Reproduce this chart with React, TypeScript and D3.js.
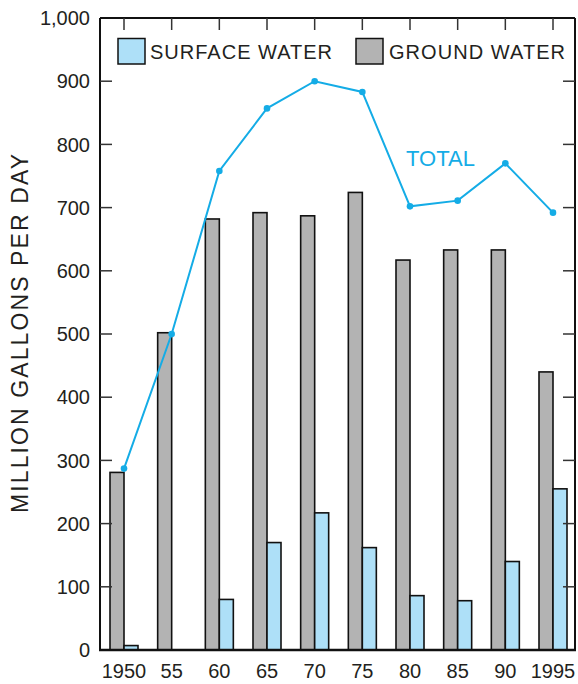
import React from "react";
import * as d3 from "d3";

const years = ["1950", "55", "60", "65", "70", "75", "80", "85", "90", "1995"];
const groundWater = [281, 502, 682, 692, 687, 724, 617, 633, 633, 440];
const surfaceWater = [7, 0, 80, 170, 217, 162, 86, 78, 140, 255];
const total = [287, 500, 758, 857, 900, 883, 702, 711, 770, 692];
const yTicks = [0, 100, 200, 300, 400, 500, 600, 700, 800, 900, 1000];

const W = 578;
const H = 684;
const left = 100;
const right = 575;
const top = 18;
const bottom = 650;
const barW = 14;
const font = "'Liberation Sans', Arial, Helvetica, sans-serif";
const textColor = "#231f20";
const blue = "#14ace6";

export default function App() {
  const x = d3.scalePoint<string>().domain(years).range([124, 553]);
  const y = d3.scaleLinear().domain([0, 1000]).range([bottom, top]);
  const line = d3
    .line<number>()
    .x((_, i) => x(years[i]) as number)
    .y((d) => y(d));

  return (
    <svg width={W} height={H} style={{ position: "absolute", left: 0, top: 0 }}>
      <rect x={0} y={0} width={W} height={H} fill="#fff" />
      {/* bars */}
      {years.map((yr, i) => (
        <g key={yr}>
          <rect
            x={(x(yr) as number) - barW}
            y={y(groundWater[i])}
            width={barW}
            height={bottom - y(groundWater[i])}
            fill="#b3b3b3"
            stroke="#111"
            strokeWidth={1.6}
          />
          {surfaceWater[i] > 0 && (
            <rect
              x={x(yr) as number}
              y={y(surfaceWater[i])}
              width={barW}
              height={bottom - y(surfaceWater[i])}
              fill="#aee0f8"
              stroke="#111"
              strokeWidth={1.6}
            />
          )}
        </g>
      ))}
      {/* total line */}
      <path d={line(total) || ""} fill="none" stroke={blue} strokeWidth={2} />
      {total.map((v, i) => (
        <circle key={i} cx={x(years[i]) as number} cy={y(v)} r={3.3} fill={blue} />
      ))}
      <text x={406} y={166} fontFamily={font} fontSize={22} fill={blue}>
        TOTAL
      </text>
      {/* frame */}
      <line x1={left} x2={left} y1={top} y2={bottom} stroke="#111" strokeWidth={2} />
      <line x1={right} x2={right} y1={top} y2={bottom} stroke="#111" strokeWidth={2} />
      <line x1={left} x2={right} y1={top} y2={top} stroke="#111" strokeWidth={2} />
      <line x1={left - 1} x2={right + 1} y1={bottom} y2={bottom} stroke="#111" strokeWidth={2.5} />
      {/* y ticks */}
      {yTicks.map((t) => (
        <g key={t}>
          {t > 0 && t < 1000 && (
            <>
              <line x1={left} x2={left + 12} y1={y(t)} y2={y(t)} stroke="#333" strokeWidth={1.5} />
              <line x1={right - 12} x2={right} y1={y(t)} y2={y(t)} stroke="#333" strokeWidth={1.5} />
            </>
          )}
          <text
            x={90}
            y={y(t)}
            dy="0.36em"
            textAnchor="end"
            fontFamily={font}
            fontSize={20}
            fill={textColor}
          >
            {d3.format(",")(t)}
          </text>
        </g>
      ))}
      {/* top ticks & x labels */}
      {years.map((yr) => (
        <g key={yr}>
          <line
            x1={x(yr) as number}
            x2={x(yr) as number}
            y1={top}
            y2={top + 12}
            stroke="#333"
            strokeWidth={1.5}
          />
          <text
            x={x(yr) as number}
            y={678}
            textAnchor="middle"
            fontFamily={font}
            fontSize={20}
            fill={textColor}
          >
            {yr}
          </text>
        </g>
      ))}
      {/* legend */}
      <rect x={118} y={38.5} width={27} height={25.5} fill="#aee0f8" stroke="#111" strokeWidth={1.5} />
      <text x={150} y={59} fontFamily={font} fontSize={20} fill={textColor} textLength={182} lengthAdjust="spacing">
        SURFACE WATER
      </text>
      <rect x={356} y={38.5} width={27} height={25.5} fill="#b3b3b3" stroke="#111" strokeWidth={1.5} />
      <text x={389} y={59} fontFamily={font} fontSize={20} fill={textColor} textLength={176} lengthAdjust="spacing">
        GROUND WATER
      </text>
      {/* y axis title */}
      <text
        transform="translate(28,513) rotate(-90)"
        fontFamily={font}
        fontSize={23}
        fill={textColor}
        textLength={359}
        lengthAdjust="spacing"
      >
        MILLION GALLONS PER DAY
      </text>
    </svg>
  );
}
